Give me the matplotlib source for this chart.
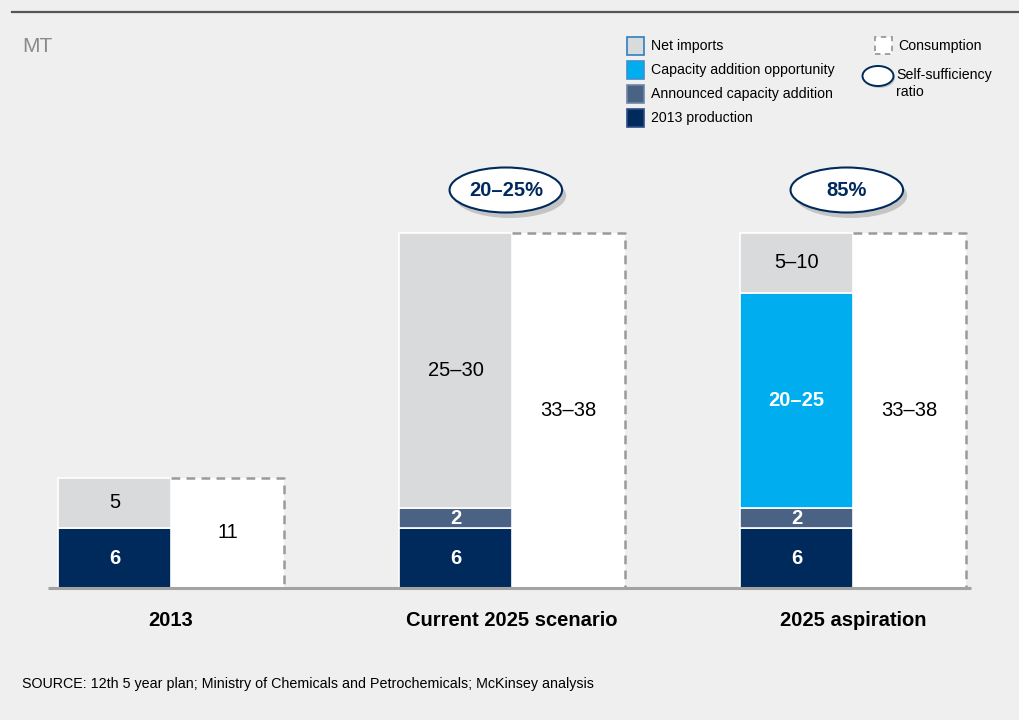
import matplotlib.pyplot as plt
from matplotlib.patches import Rectangle, Ellipse

plt.rcParams['font.family'] = ['Liberation Sans', 'DejaVu Sans']

# -------- DATA (MT) --------
categories = ["2013", "Current 2025 scenario", "2025 aspiration"]
production = [6, 6, 6]
announced = [0, 2, 2]
opportunity = [0, 0, 21.5]
net_imports = [5, 27.5, 6]
consumption = [11, 35.5, 35.5]

production_lbl = ["6", "6", "6"]
announced_lbl = ["", "2", "2"]
opportunity_lbl = ["", "", "20–25"]
imports_lbl = ["5", "25–30", "5–10"]
consumption_lbl = ["11", "33–38", "33–38"]
ratio_lbl = [None, "20–25%", "85%"]

# -------- STYLE --------
BG = "#EEEFEE"
NAVY = "#002A5C"
SLATE = "#4A6283"
CYAN = "#00ADEF"
LIGHT = "#D9DADC"
DASH = "#9A9A9A"
FS = 14.5

W, H = 1019, 720
fig = plt.figure(figsize=(W / 100, H / 100), dpi=100, facecolor=BG)


def px(x, y):
    # pixel (from top-left) -> figure fraction
    return x / W, 1 - y / H


# header rule
fig.add_artist(plt.Line2D([12 / W, 1], [px(0, 12)[1]] * 2, color="#555555", lw=1.6))
fig.text(*px(22, 46), "MT", fontsize=15, color="#8A8A8A", va="center")

# -------- CHART --------
ax = fig.add_axes([51.6 / W, (720 - 588) / H, 920.7 / W, 420 / H])
ax.set_facecolor("none")
ax.set_xlim(-0.35, 2.35)
ax.set_ylim(0, 42)
ax.axis("off")

bw = 0.331
xs = range(len(categories))
for i in xs:
    xl = i - bw / 2
    xr = i + bw / 2
    bottom = 0
    segs = [(production[i], NAVY, production_lbl[i], "white", "bold"),
            (announced[i], SLATE, announced_lbl[i], "white", "bold"),
            (opportunity[i], CYAN, opportunity_lbl[i], "white", "bold"),
            (net_imports[i], LIGHT, imports_lbl[i], "black", "normal")]
    for val, col, lbl, tc, fw in segs:
        if val <= 0:
            continue
        ax.bar(xl, val, bottom=bottom, width=bw, color=col, edgecolor="white", lw=1.2)
        ax.text(xl, bottom + val / 2, lbl, ha="center", va="center",
                color=tc, fontsize=FS, fontweight=fw)
        bottom += val

    # consumption box, dashed on top and right
    c = consumption[i]
    ax.bar(xr, c, width=bw, color="white", lw=0)
    ax.plot([xl + bw / 2, xr + bw / 2, xr + bw / 2], [c, c, 0],
            color=DASH, lw=1.8, ls=(0, (3.5, 2.5)))
    ax.text(xr, c / 2, consumption_lbl[i], ha="center", va="center",
            fontsize=FS, color="black")

    ax.text(i, -3.3, categories[i], ha="center", va="center",
            fontsize=FS, fontweight="bold", color="black", clip_on=False)

    if ratio_lbl[i]:
        ew, eh = 0.33, 4.5
        ax.add_patch(Ellipse((i - 0.006, 39.6 - 0.35), ew, eh, color="#9A9A9A",
                             alpha=0.5, lw=0, clip_on=False))
        ax.add_patch(Ellipse((i - 0.018, 39.8), ew, eh, facecolor="white",
                             edgecolor=NAVY, lw=1.5, clip_on=False))
        ax.text(i - 0.018, 39.8, ratio_lbl[i], ha="center", va="center",
                fontsize=FS, fontweight="bold", color=NAVY, clip_on=False)

ax.plot([-0.36, 2.345], [0, 0], color="#A3A3A3", lw=2.2, clip_on=False,
        solid_capstyle="butt")

# -------- LEGEND --------
legend_items = [("Net imports", LIGHT, "#2F7FC1"),
                ("Capacity addition opportunity", CYAN, "#3C8FD0"),
                ("Announced capacity addition", SLATE, "#6F86A8"),
                ("2013 production", NAVY, "#2C4E86")]
for k, (name, fc, ec) in enumerate(legend_items):
    yc = 46 + k * 24
    x0, y0 = px(627, yc + 8.5)
    fig.add_artist(Rectangle((x0, y0), 17 / W, 17 / H, facecolor=fc,
                             edgecolor=ec, lw=1.2, transform=fig.transFigure))
    fig.text(*px(651, yc), name, fontsize=10.2, va="center")

# consumption key
x0, y0 = px(875, 54)
fig.add_artist(Rectangle((x0, y0), 17 / W, 17 / H, facecolor="white",
                         edgecolor=DASH, lw=1.3, ls=(0, (3, 2.5)),
                         transform=fig.transFigure))
fig.text(*px(898, 46), "Consumption", fontsize=10.2, va="center")

# self-sufficiency key
ex, ey = px(878, 76)
fig.add_artist(Ellipse((ex + 1.5 / W, ey - 2 / H), 31 / W, 20 / H, color="#9A9A9A",
                       alpha=0.5, lw=0, transform=fig.transFigure))
fig.add_artist(Ellipse((ex, ey), 31 / W, 20 / H, facecolor="white", edgecolor=NAVY,
                       lw=1.4, transform=fig.transFigure))
fig.text(*px(896, 75), "Self-sufficiency", fontsize=10.2, va="center")
fig.text(*px(896, 92), "ratio", fontsize=10.2, va="center")

# source
fig.text(*px(22, 684), "SOURCE: 12th 5 year plan; Ministry of Chemicals and "
         "Petrochemicals; McKinsey analysis", fontsize=10.3, va="center")

fig.savefig("out.png", dpi=100, facecolor=BG)
